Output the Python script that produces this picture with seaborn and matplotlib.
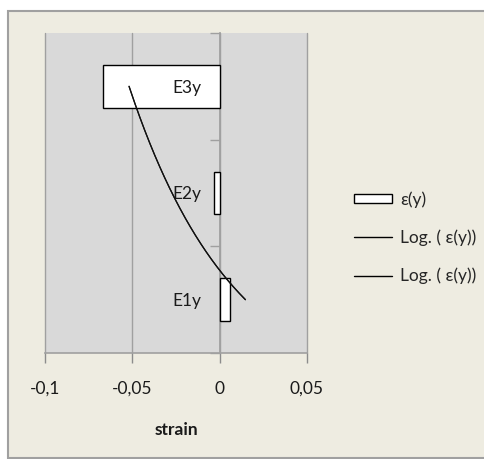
import numpy as np
import pandas as pd
import matplotlib
matplotlib.use("Agg")
import matplotlib.pyplot as plt
import seaborn as sns
from matplotlib.patches import Rectangle, Patch
from matplotlib.lines import Line2D

# ---- data ----
categories = ["E3y", "E2y", "E1y"]
strain_values = [-0.067, -0.0033, 0.0059]
x_ticks = [-0.1, -0.05, 0, 0.05]
x_tick_labels = ["-0,1", "-0,05", "0", "0,05"]
legend_labels = ["ε(y)", "Log. ( ε(y))", "Log. ( ε(y))"]
x_label = "strain"

df = pd.DataFrame({"cat": categories, "strain": strain_values})

sns.set_theme(style="white")
plt.rcParams["font.family"] = ["Lato", "DejaVu Sans"]
FS = 12.5
TXT = "#1a1a1a"

W, H = 485, 459
fig = plt.figure(figsize=(W / 100, H / 100), dpi=100, facecolor="white")

# chart area background with border
fig.patches.append(Rectangle((8 / W, 1 / H), 1.0, (H - 12) / H,
                             transform=fig.transFigure, facecolor="#EEECE1",
                             edgecolor="#A0A0A0", lw=1.5, zorder=-5))

ax = fig.add_axes([45 / W, (H - 353) / H, (307 - 45) / W, (353 - 33) / H])
ax.set_facecolor("#D9D9D9")

sns.barplot(data=df, x="strain", y="cat", order=categories, orient="h",
            width=0.4, color="white", edgecolor="black", linewidth=1,
            saturation=1, ax=ax, zorder=3)

# logarithmic trendline (Excel-style): value = a*ln(k) + b, k = 1 for E1y
k = np.array([3, 2, 1], dtype=float)  # index for E3y, E2y, E1y
a, b = np.polyfit(np.log(k), np.array(strain_values), 1)
kk = np.linspace(1, 3, 200)
trend_x = a * np.log(kk) + b
trend_y = 3 - kk  # category position
for _ in range(2):
    ax.plot(trend_x, trend_y, color="#111111", lw=0.9, zorder=7)

ax.set_xlim(-0.1, 0.05)
ax.set_ylim(2.5, -0.5)

# x axis
ax.set_xticks(x_ticks)
ax.set_xticklabels(x_tick_labels, fontsize=FS, color=TXT)
ax.tick_params(axis="x", direction="out", length=7, width=1, color="#8C8C8C",
               pad=13, bottom=True)
ax.set_xlabel(x_label, fontsize=FS, fontweight="bold", labelpad=18, color=TXT)
ax.xaxis.grid(True, color="#A0A0A0", lw=1)
for gl in ax.get_xgridlines():
    gl.set_clip_on(False)
ax.set_axisbelow(True)

# y axis at x = 0
ax.spines["left"].set_position(("data", 0))
ax.spines["left"].set_color("#A0A0A0")
ax.spines["left"].set_zorder(2)
ax.spines["right"].set_visible(False)
ax.spines["top"].set_visible(False)
ax.spines["bottom"].set_color("#A0A0A0")
ax.spines["bottom"].set_linewidth(1.2)
ax.set_ylabel("")
ax.set_yticks([0, 1, 2])
ax.set_yticklabels(categories, fontsize=FS, color=TXT)
ax.set_yticks([-0.5, 0.5, 1.5, 2.5], minor=True)
ax.tick_params(axis="y", which="major", length=0, pad=13, left=True)
ax.tick_params(axis="y", which="minor", direction="out", length=7, width=1,
               color="#A0A0A0", left=True)
ax.yaxis.set_zorder(5)

handles = [Patch(facecolor="white", edgecolor="black", lw=1),
           Line2D([], [], color="black", lw=1),
           Line2D([], [], color="black", lw=1)]
fig.legend(handles, legend_labels, loc="center left",
           bbox_to_anchor=(354 / W, (H - 237.5) / H), frameon=False,
           fontsize=FS, handlelength=2.2, handleheight=0.45, handletextpad=0.45,
           labelspacing=1.25, borderpad=0, borderaxespad=0)

fig.savefig("out.png", dpi=100, facecolor="white")
